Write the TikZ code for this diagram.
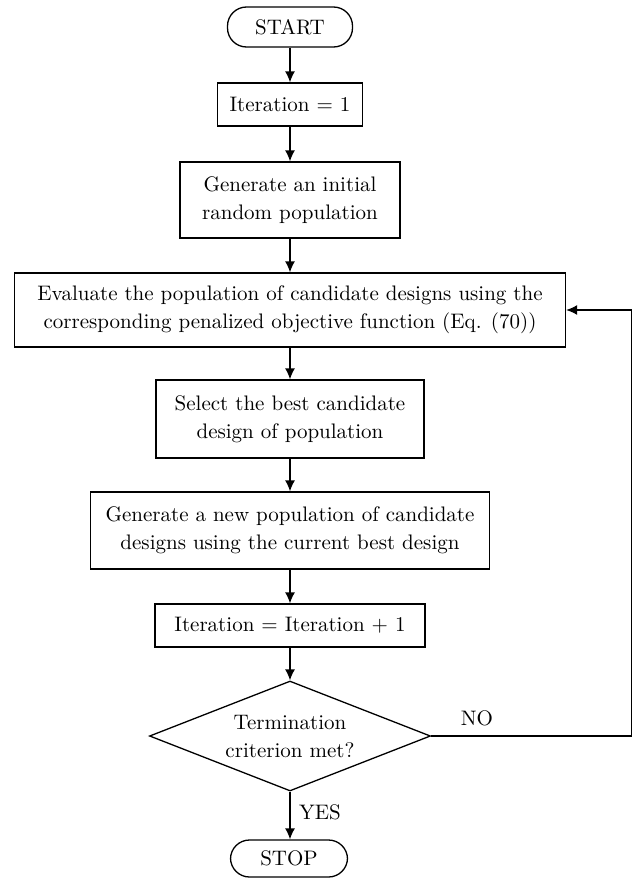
\documentclass[tikz,border=0pt]{standalone}
\usetikzlibrary{positioning, shapes.geometric}
\usetikzlibrary{arrows, arrows.meta}
\tikzset{>={Latex[length=5.5pt,width=5pt]}}
\tikzset{ % flowchart styles
  flow box/.style={draw,rectangle,inner sep=0,align=center,line width=0.65pt},
  terminal/.style={flow box,rounded corners=9.5pt},
  decision/.style={flow box,diamond,aspect=2.55},
  flow line/.style={->,line width=0.65pt},
  my label/.style={inner sep=0}
}

\begin{document}
\begin{tikzpicture}[x=0.5pt,y=-0.5pt,font=\fontsize{10.5}{14}\selectfont]
\useasboundingbox (0,0) rectangle (633,878);

\node[terminal,minimum width=62.5pt,minimum height=20pt]   (start)  at (290,27)    {START};
\node[flow box,minimum width=72.5pt,minimum height=21.5pt] (it1)    at (290,104.5) {Iteration = 1};
\node[flow box,minimum width=110pt,minimum height=38pt]    (gen)    at (290,200)   {Generate an initial\\random population};
\node[flow box,minimum width=275.5pt,minimum height=37pt]  (eval)   at (290,310)   {Evaluate the population of candidate designs using the\\corresponding penalized objective function (Eq. (70))};
\node[flow box,minimum width=134pt,minimum height=39pt]    (sel)    at (290,419)   {Select the best candidate\\design of population};
\node[flow box,minimum width=199.5pt,minimum height=38.5pt] (newpop) at (290,530.5) {Generate a new population of candidate\\designs using the current best design};
\node[flow box,minimum width=135pt,minimum height=21.5pt]  (itplus) at (290,625.5) {Iteration = Iteration + 1};
\node[decision,minimum width=140.5pt,minimum height=55pt]  (dec)    at (290,736)   {Termination\\criterion met?};
\node[terminal,minimum width=58.5pt,minimum height=18.5pt] (stop)   at (289,858.5) {STOP};

% connections
\foreach\a/\b in {start/it1,it1/gen,gen/eval,eval/sel,sel/newpop,newpop/itplus,itplus/dec}
  \draw[flow line] (\a) -- (\b);
\draw[flow line] (dec.south) -- (dec.south |- stop.north);
\draw[flow line] (dec.east) -- ++(200,0) |- (eval.east);

% labels
\node[my label] (no)  at (477,718) {NO};
\node[my label] (yes) at (320,812) {YES};
\end{tikzpicture}
\end{document}
